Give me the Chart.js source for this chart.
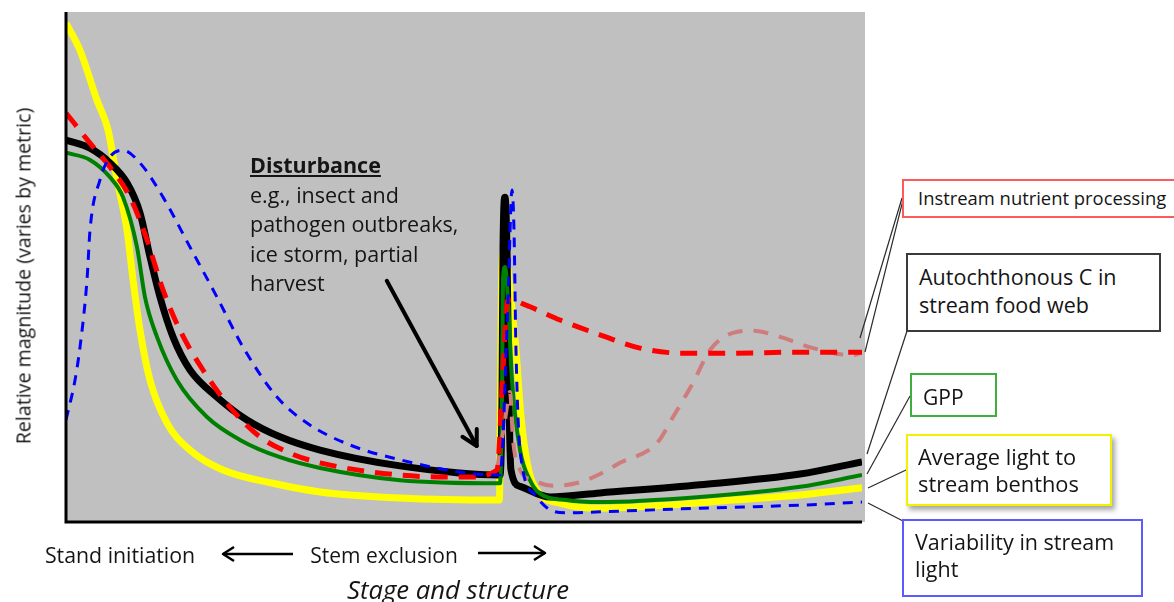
<!DOCTYPE html>
<html><head><meta charset="utf-8">
<script src="https://cdn.jsdelivr.net/npm/chart.js@4.4.0/dist/chart.umd.min.js"></script>
<style>
html,body{margin:0;padding:0;background:#fff;}
#wrap{position:relative;width:1174px;height:602px;overflow:hidden;font-family:"Open Sans",Lato,sans-serif;color:#151515;}
#c{position:absolute;left:0;top:0;}
.t{position:absolute;white-space:nowrap;}
.c{transform:translate(-50%,-50%);}
.box{position:absolute;background:#fff;box-sizing:border-box;}
</style></head>
<body><div id="wrap">
<canvas id="c" width="1174" height="602"></canvas>
<div class="box" style="left:902px;top:179px;width:300px;height:39px;border:2px solid #ff5a5a;"></div>
<div class="box" style="left:906px;top:253px;width:255px;height:79px;border:2px solid #3a3a3a;"></div>
<div class="box" style="left:910px;top:373px;width:87px;height:44px;border:2px solid #3fae3f;"></div>
<div class="box" style="left:906px;top:434px;width:206px;height:72px;border:2px solid #f2f200;box-shadow:3px 4px 5px rgba(0,0,0,0.35);"></div>
<div class="box" style="left:902px;top:519px;width:241px;height:78px;border:2px solid #5a5aff;"></div>

<div class="t" style="left:918px;top:185px;font-size:18.4px;line-height:26px;">Instream nutrient processing</div>
<div class="t" style="left:919px;top:263px;font-size:21.5px;line-height:28px;">Autochthonous C in<br>stream food web</div>
<div class="t" style="left:923px;top:382px;font-size:21px;line-height:30px;">GPP</div>
<div class="t" style="left:918px;top:443px;font-size:21.8px;line-height:27px;">Average light to<br>stream benthos</div>
<div class="t" style="left:915px;top:528px;font-size:21.5px;line-height:27px;">Variability in stream<br>light</div>

<div class="t" style="left:250px;top:150px;font-size:21.5px;line-height:29.5px;"><span style="font-weight:bold;text-decoration:underline;">Disturbance</span><br>e.g., insect and<br>pathogen outbreaks,<br>ice storm, partial<br>harvest</div>

<div class="t" style="left:23px;top:276px;font-size:19.6px;transform:translate(-50%,-50%) rotate(-90deg);">Relative magnitude (varies by metric)</div>
<div class="t c" style="left:120px;top:554px;font-size:21.3px;">Stand initiation</div>
<div class="t c" style="left:384px;top:555px;font-size:21px;">Stem exclusion</div>
<div class="t c" style="left:458px;top:589px;font-size:25.7px;font-style:italic;">Stage and structure</div>
</div>
<script>
// Relative values (x: 0-100 along stage axis, y: 0-100 relative magnitude)
const yellowX = [0,1.76,3.89,5.28,6.41,7.66,8.42,9.30,10.55,12.69,15.58,19.72,26.01,31.91,41.96,54.45,54.58,54.72,55.0,55.4,56.03,56.53,57.16,58.04,59.42,62.06,67.09,75.5,83.79,92.21,100];
const yellowY = [97.8,92.5,82.7,76.9,67.1,57.3,47.5,37.6,27.8,19.4,14.1,10.2,7.6,5.9,4.7,4.3,23.9,47.5,53.3,51.0,41.6,33.7,20.6,10.8,5.7,3.7,2.7,3.3,4.3,5.3,6.7];

const blackX = [0,3.02,5.53,7.66,9.30,10.55,11.81,13.44,15.58,18.97,22.74,26.88,31.91,41.96,54.52,54.77,54.9,55.15,55.4,55.65,55.9,57.04,60.8,67.09,79.65,92.21,100];
const blackY = [74.9,73.3,70.4,66.5,60.6,52.0,44.1,36.3,29.8,24.5,20.0,16.7,14.1,11.0,9.2,23.9,53.3,63.7,53.3,23.9,10.2,7.0,4.9,5.7,7.3,9.4,11.8];

const greenX = [0,3.02,5.53,7.16,8.92,9.92,11.43,13.94,17.71,21.86,26.88,31.91,41.96,54.52,54.77,54.9,55.15,55.53,56.03,57.04,58.29,59.42,62.81,67.09,79.65,92.21,100];
const greenY = [72.4,71.0,67.6,63.7,53.9,44.1,36.3,27.8,20.6,16.1,12.7,10.6,8.2,7.6,23.9,47.5,50.0,43.5,27.8,14.1,8.2,5.7,4.3,3.9,4.9,6.9,9.2];

const redX = [0,3.02,5.53,8.04,10.18,12.19,14.32,17.21,20.60,24.37,28.14,31.91,41.96,50.38,54.15,54.9,55.5,56.3,57.04,58.3,62.06,67.09,72.11,77.51,83.79,92.21,100];
const redY = [80.2,74.3,69.6,63.7,55.3,45.5,37.6,29.8,22.5,16.7,13.5,11.6,9.2,8.8,10.2,30.0,43.5,43.6,43.0,42.2,39.6,36.7,34.1,33.1,33.1,33.3,33.3];

const pinkX = [54.15,55.15,55.78,56.16,57.04,58.67,61.18,64.57,67.09,69.6,74.25,76.26,78.77,80.9,83.79,86.31,89.7,93.84,98.87,100];
const pinkY = [10.2,20.0,25.5,16.1,10.2,8.2,7.1,7.8,9.4,11.6,15.5,20.6,27.3,33.7,37.1,37.5,36.3,34.1,32.7,33.3];

const blueX = [0,1.13,1.76,2.64,3.02,4.27,5.53,7.16,9.30,12.19,15.58,18.97,22.24,26.51,30.28,35.68,41.96,50.38,54.52,55.53,56.03,56.28,56.53,57.04,58.92,60.8,62.94,67.09,79.65,92.21,100];
const blueY = [20.0,27.8,34.3,47.5,57.3,67.1,71.6,72.9,70.4,63.7,53.9,44.1,34.3,24.5,19.4,15.1,12.2,9.6,9.2,43.5,65.1,57.3,33.7,14.1,5.3,2.4,1.8,2.0,2.7,3.3,3.9];

function pts(xs, ys){ return xs.map((x,i)=>({x:x, y:ys[i]})); }

const common = {pointRadius:0, fill:false, cubicInterpolationMode:'monotone', borderJoinStyle:'round', borderCapStyle:'butt'};

const decor = {
  id:'decor',
  beforeDatasetsDraw(chart){
    const {ctx, chartArea:a} = chart;
    ctx.save();
    ctx.fillStyle = '#c0c0c0';
    ctx.fillRect(a.left, a.top, a.right - a.left + 3, a.bottom - a.top);
    ctx.restore();
  },
  afterDatasetsDraw(chart){
    const {ctx, chartArea:a} = chart;
    const xs = chart.scales.x, ys = chart.scales.y;
    ctx.save();
    ctx.strokeStyle = '#000'; ctx.lineWidth = 3;
    ctx.beginPath();
    ctx.moveTo(a.left, a.top); ctx.lineTo(a.left, a.bottom); ctx.lineTo(a.right, a.bottom);
    ctx.stroke();
    // disturbance arrow
    const x1 = xs.getPixelForValue(40.3), y1 = ys.getPixelForValue(47.3);
    const x2 = xs.getPixelForValue(51.6), y2 = ys.getPixelForValue(14.9);
    ctx.lineWidth = 4; ctx.lineCap = 'round'; ctx.lineJoin='round';
    ctx.beginPath(); ctx.moveTo(x1,y1); ctx.lineTo(x2,y2); ctx.stroke();
    const ang = Math.atan2(y2-y1, x2-x1), hl = 17;
    ctx.beginPath();
    ctx.moveTo(x2 - hl*Math.cos(ang-0.5), y2 - hl*Math.sin(ang-0.5));
    ctx.lineTo(x2,y2);
    ctx.lineTo(x2 - hl*Math.cos(ang+0.5), y2 - hl*Math.sin(ang+0.5));
    ctx.stroke();
    // bottom arrows
    ctx.lineWidth = 2.5; ctx.lineCap='butt';
    function harrow(xa, xb, y){
      ctx.beginPath(); ctx.moveTo(xa,y); ctx.lineTo(xb,y); ctx.stroke();
      const d = xb > xa ? -1 : 1;
      ctx.beginPath(); ctx.moveTo(xb + d*11, y-7); ctx.lineTo(xb, y); ctx.lineTo(xb + d*11, y+7); ctx.stroke();
    }
    harrow(293, 223, 554);
    harrow(478, 545, 553);
    // leader lines
    ctx.strokeStyle = '#2a2a2a'; ctx.lineWidth = 1.2;
    const L = [[902,198,860,338],[903,200,865,352],[907,331,867,454],[910,396,867,474],[906,470,868,488],[903,521,868,503]];
    L.forEach(l=>{ctx.beginPath(); ctx.moveTo(l[0],l[1]); ctx.lineTo(l[2],l[3]); ctx.stroke();});
    ctx.restore();
  }
};

new Chart(document.getElementById('c'), {
  type:'line',
  data:{datasets:[
    Object.assign({data:pts(blueX,blueY), borderColor:'#0000ff', borderWidth:3, borderDash:[10,8], order:0}, common),
    Object.assign({data:pts(redX,redY), borderColor:'#ff0000', borderWidth:5, borderDash:[17,11], order:1}, common),
    Object.assign({data:pts(pinkX,pinkY), borderColor:'#cf7c7c', borderWidth:4, borderDash:[15,11], order:2}, common),
    Object.assign({data:pts(greenX,greenY), borderColor:'#008000', borderWidth:4, order:3}, common),
    Object.assign({data:pts(blackX,blackY), borderColor:'#000000', borderWidth:7, order:4}, common),
    Object.assign({data:pts(yellowX,yellowY), borderColor:'#ffff00', borderWidth:7, order:5}, common)
  ]},
  options:{
    responsive:false, animation:false, devicePixelRatio:1,
    layout:{padding:{left:66, top:12, right:312, bottom:80}},
    scales:{
      x:{type:'linear', min:0, max:100, display:false},
      y:{type:'linear', min:0, max:100, display:false}
    },
    plugins:{legend:{display:false}, tooltip:{enabled:false}},
    events:[]
  },
  plugins:[decor]
});
</script>
</body></html>
